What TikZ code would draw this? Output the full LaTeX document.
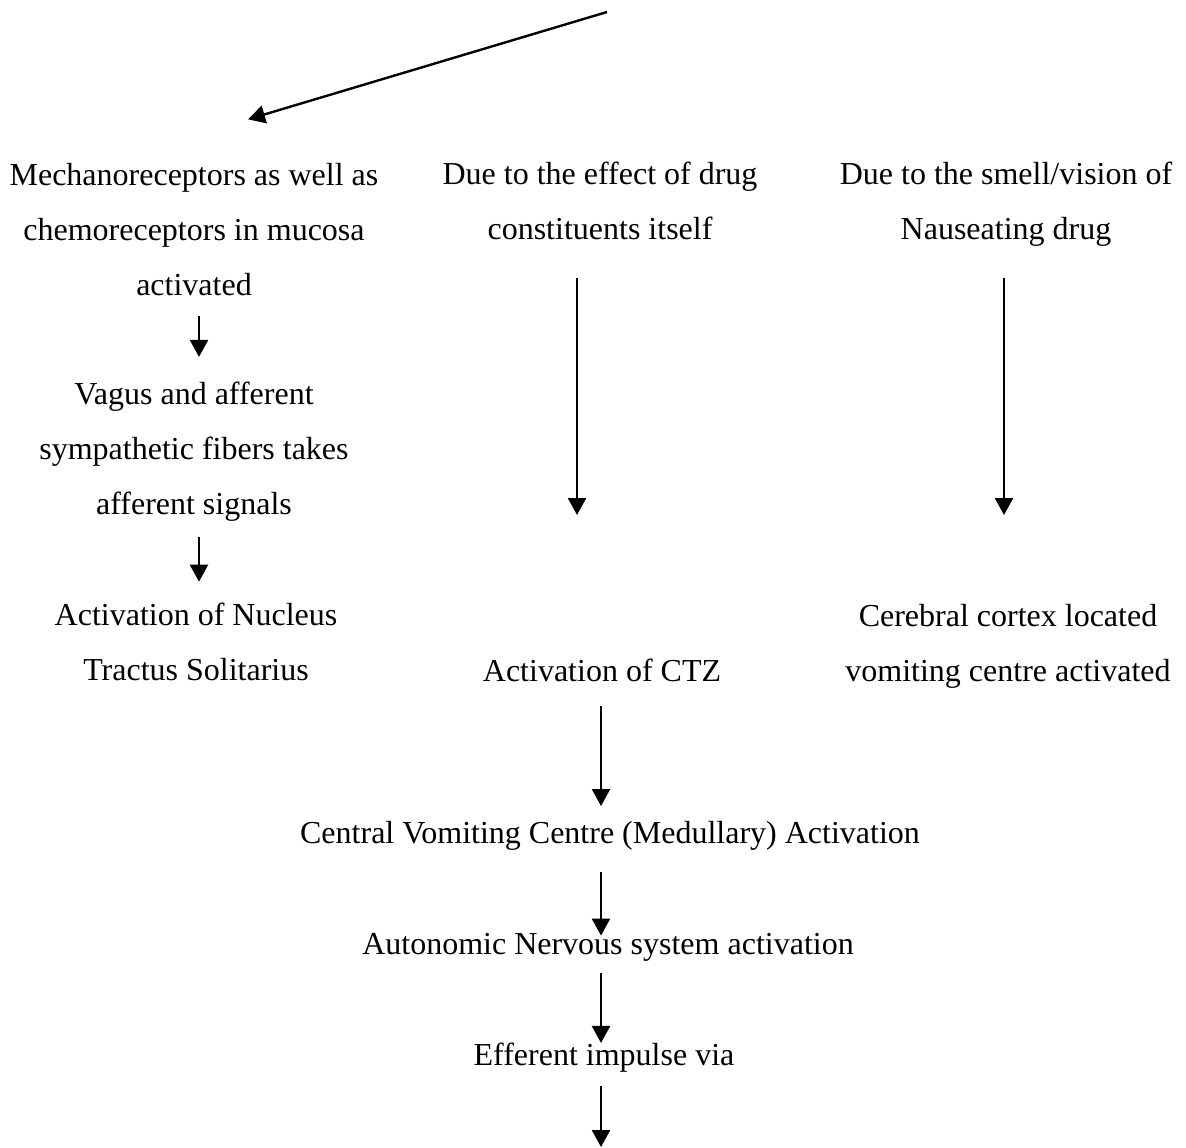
\documentclass[tikz,border=0pt]{standalone}
\usepackage{fontspec}
\setmainfont{Liberation Serif}
\usetikzlibrary{arrows.meta,positioning}

\begin{document}
\begin{tikzpicture}[x=0.5pt,y=-0.5pt,
    box/.style={inner sep=0pt, align=center, font=\fontsize{16}{27.5}\selectfont},
    arr/.style={line width=1.2pt, -{Triangle[width=9pt,length=8.5pt]}}]

\useasboundingbox (0,0) rectangle (1186,1147);

% Arrow columns and free ends
\coordinate (colA) at (199,0);
\coordinate (colM) at (601,0);
\coordinate (topstart) at (607,12);
\coordinate (endB) at (577,515);
\coordinate (endC) at (1004,515);
\coordinate (endD) at (601,1147);

% Left branch
\node[box] (mech) at (194,230) {Mechanoreceptors as well as\\chemoreceptors in mucosa\\activated};
\node[box] (vagus) at (194,452) {Vagus and afferent\\sympathetic fibers takes\\afferent signals};
\node[box] (nts) at (196,642) {Activation of Nucleus\\Tractus Solitarius};

% Middle branch
\node[box] (drug) at (600,201) {Due to the effect of drug\\constituents itself};
\node[box] (ctz) at (602,670) {Activation of CTZ};

% Right branch
\node[box] (smell) at (1006,204) {Due to the smell/vision of\\Nauseating drug};
\node[box] (cortex) at (1008,646) {Cerebral cortex located\\vomiting centre activated};

% Common path
\node[box] (central) at (610,836) {Central Vomiting Centre (Medullary) Activation};
\node[box] (ans) at (608,947) {Autonomic Nervous system activation};
\node[box] (efferent) at (604,1058) {Efferent impulse via};

% Arrows
\draw[arr] (topstart) -- ([xshift=27pt,yshift=22pt]mech.north);
\draw[arr, shorten <=9.5pt, shorten >=12.5pt] (mech.south -| colA) -- (vagus.north -| colA);
\draw[arr, shorten <=7.5pt, shorten >=10.5pt] (vagus.south -| colA) -- (nts.north -| colA);
\draw[arr, shorten <=19pt] (drug.south -| endB) -- (endB);
\draw[arr, shorten <=15.5pt] (smell.south -| endC) -- (endC);
\draw[arr, shorten <=12pt, shorten >=7.5pt] (ctz.south -| colM) -- (central.north -| colM);
\draw[arr, shorten <=10.5pt, shorten >=-1.5pt] (central.south -| colM) -- (ans.north -| colM);
\draw[arr, shorten <=6pt, shorten >=0pt] (ans.south -| colM) -- (efferent.north -| colM);
\draw[arr, shorten <=6.5pt] (efferent.south -| colM) -- (endD);

\end{tikzpicture}
\end{document}
